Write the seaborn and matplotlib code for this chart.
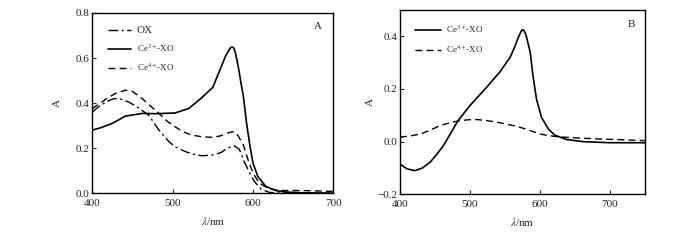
import numpy as np
import pandas as pd
import matplotlib
matplotlib.use("Agg")
import matplotlib.pyplot as plt
from matplotlib.ticker import FuncFormatter
import seaborn as sns

# ---- panel A data ----
wl_ox = [400, 410, 420, 427, 435, 445, 455, 470, 483, 495, 503, 515, 524, 537,
         550, 560, 566, 572, 577, 583, 589, 596, 602, 610, 620, 635, 650, 700]
a_ox = [0.36, 0.39, 0.41, 0.42, 0.418, 0.405, 0.385, 0.347, 0.28, 0.23, 0.206,
        0.186, 0.174, 0.166, 0.17, 0.18, 0.195, 0.205, 0.21, 0.195, 0.14, 0.089,
        0.051, 0.018, 0.004, 0.0, 0.0, 0.0]

wl_ce3_a = [400, 410, 425, 441, 462, 480, 503, 520, 535, 550, 558, 566, 570, 572,
            574, 576, 578, 582, 585, 588, 592, 596, 600, 606, 616, 629, 641, 660, 700]
a_ce3_a = [0.28, 0.29, 0.31, 0.342, 0.354, 0.353, 0.356, 0.376, 0.42, 0.47, 0.54,
           0.61, 0.635, 0.645, 0.649, 0.645, 0.625, 0.555, 0.49, 0.43, 0.31, 0.214,
           0.133, 0.074, 0.03, 0.011, 0.005, 0.002, 0.0]

wl_ce4_a = [400, 410, 420, 430, 441, 450, 462, 473, 483, 493, 503, 513, 524, 537,
            550, 560, 568, 575, 581, 588, 594, 600, 608, 621, 637, 660, 700]
a_ce4_a = [0.375, 0.40, 0.425, 0.445, 0.457, 0.452, 0.42, 0.385, 0.354, 0.32, 0.295,
           0.272, 0.258, 0.25, 0.248, 0.255, 0.267, 0.273, 0.258, 0.214, 0.147,
           0.089, 0.044, 0.018, 0.012, 0.012, 0.008]

# ---- panel B data ----
wl_ce3_b = [400, 410, 421, 432, 443, 452, 462, 472, 483, 492, 500, 512, 524, 533,
            543, 552, 557, 564, 569, 573, 575, 577, 580, 586, 590, 595, 602, 612,
            621, 638, 662, 700, 750]
a_ce3_b = [-0.085, -0.103, -0.11, -0.1, -0.078, -0.05, -0.015, 0.03, 0.08, 0.11,
           0.137, 0.172, 0.207, 0.235, 0.265, 0.3, 0.318, 0.36, 0.395, 0.418, 0.425,
           0.422, 0.405, 0.34, 0.25, 0.162, 0.093, 0.048, 0.025, 0.008, 0.0,
           -0.004, -0.004]

wl_ce4_b = [400, 415, 429, 443, 457, 472, 486, 498, 510, 524, 538, 550, 560, 571,
            585, 600, 610, 621, 640, 662, 685, 709, 750]
a_ce4_b = [0.017, 0.022, 0.029, 0.043, 0.061, 0.072, 0.08, 0.083, 0.084, 0.08,
           0.074, 0.068, 0.062, 0.055, 0.043, 0.029, 0.024, 0.02, 0.016, 0.013,
           0.01, 0.008, 0.004]

labels_a = ["OX", "Ce$^{3+}$-XO", "Ce$^{4+}$-XO"]
labels_b = ["Ce$^{3+}$-XO", "Ce$^{4+}$-XO"]

sns.set_style("ticks")
plt.rcParams['font.family'] = ['Liberation Serif', 'DejaVu Serif']
plt.rcParams['mathtext.fontset'] = 'stix'
plt.rcParams['xtick.direction'] = 'in'
plt.rcParams['ytick.direction'] = 'in'

DASHDOT = (0, (7, 2.5, 1.5, 2.5))
DASHED = (0, (5, 3))

fig = plt.figure(figsize=(7, 2.4), dpi=100)
ax1 = fig.add_axes([0.1319, 0.195, 0.3443, 0.751])
ax2 = fig.add_axes([0.5714, 0.190, 0.35, 0.769])

sns.lineplot(x=wl_ox, y=a_ox, ax=ax1, color='black', lw=1.0,
             linestyle=DASHDOT, label=labels_a[0])
sns.lineplot(x=wl_ce3_a, y=a_ce3_a, ax=ax1, color='black', lw=1.2,
             linestyle='-', label=labels_a[1])
sns.lineplot(x=wl_ce4_a, y=a_ce4_a, ax=ax1, color='black', lw=1.0,
             linestyle=DASHED, label=labels_a[2])

sns.lineplot(x=wl_ce3_b, y=a_ce3_b, ax=ax2, color='black', lw=1.2,
             linestyle='-', label=labels_b[0])
sns.lineplot(x=wl_ce4_b, y=a_ce4_b, ax=ax2, color='black', lw=1.0,
             linestyle=DASHED, label=labels_b[1])

fmt = FuncFormatter(lambda v, p: f"{v:.1f}".replace('-', '\u2212'))

for ax in (ax1, ax2):
    ax.set_xticks([400, 500, 600, 700])
    ax.yaxis.set_major_formatter(fmt)
    ax.tick_params(labelsize=8, length=3, width=0.8)
    ax.tick_params(axis='x', pad=4)
    ax.tick_params(axis='y', pad=2)
    for s in ax.spines.values():
        s.set_linewidth(1.0)
        s.set_color('black')
    ax.set_xlabel(r'$\lambda$/nm', fontsize=8, labelpad=5)
    ax.set_ylabel('A', fontsize=8)

ax1.set_xlim(400, 700)
ax1.set_ylim(0, 0.8)
ax1.set_yticks([0.0, 0.2, 0.4, 0.6, 0.8])
ax1.yaxis.labelpad = 10
ax1.text(0.937, 0.926, 'A', transform=ax1.transAxes, fontsize=8,
         ha='center', va='center')

ax2.set_xlim(400, 750)
ax2.set_ylim(-0.2, 0.5)
ax2.set_yticks([-0.2, 0.0, 0.2, 0.4])
ax2.yaxis.labelpad = 2
ax2.text(0.946, 0.918, 'B', transform=ax2.transAxes, fontsize=8,
         ha='center', va='center')

leg1 = ax1.legend(loc='upper left', bbox_to_anchor=(0.03, 0.97), frameon=False,
                  fontsize=6.5, handlelength=2.6, handletextpad=0.6, labelspacing=0.8)
leg1.get_texts()[0].set_fontsize(8)
ax2.legend(loc='upper left', bbox_to_anchor=(0.03, 0.97), frameon=False,
           fontsize=6.5, handlelength=2.8, handletextpad=0.6, labelspacing=1.0)

fig.savefig('out.png', dpi=100)
